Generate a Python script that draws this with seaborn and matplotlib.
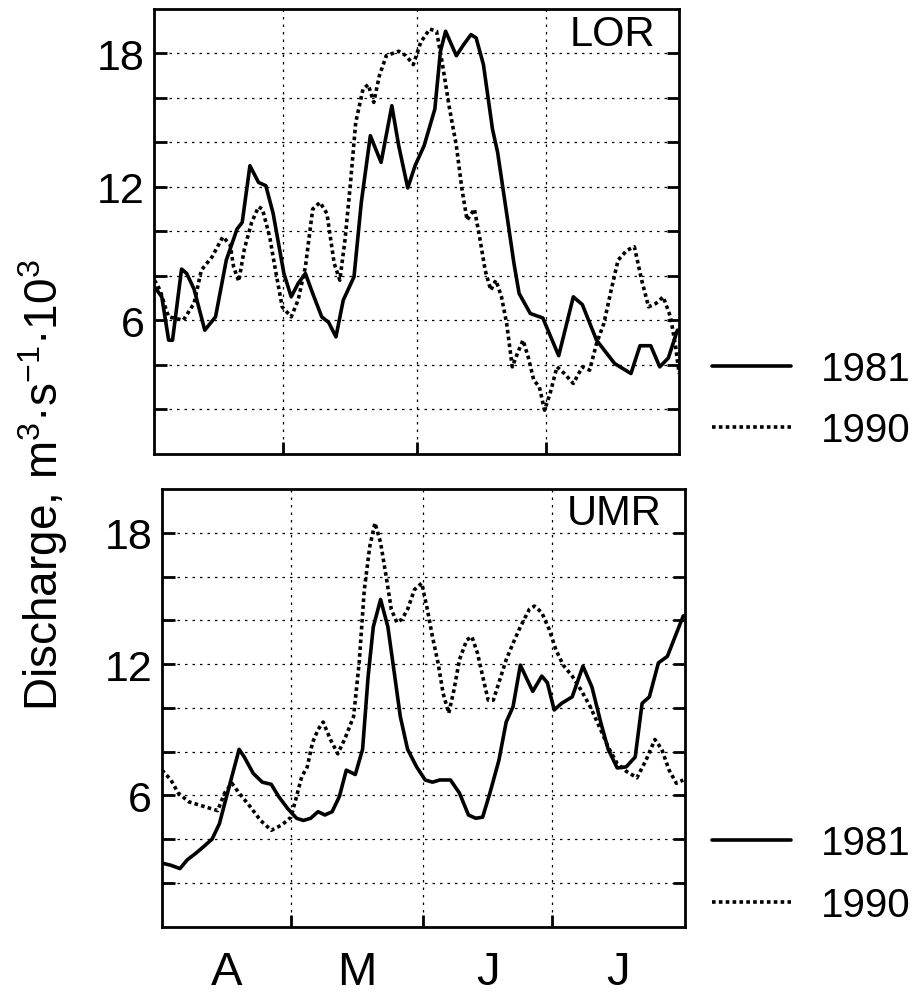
import matplotlib
matplotlib.use("Agg")
import matplotlib.pyplot as plt
import seaborn as sns
import pandas as pd
from matplotlib.lines import Line2D

# ---------------- data (day 0 = 1 April) ----------------
month_labels = ["A", "M", "J", "J"]
month_centers = [15, 45.5, 76, 106.5]
month_bounds = [30, 61, 91]
ytick_values = [2, 4, 6, 8, 10, 12, 14, 16, 18]
ytick_labels = ["", "", "6", "", "", "12", "", "", "18"]
panel_names = ["LOR", "UMR"]
year_labels = ["1981", "1990"]

lor_1981_day = [0, 1.7, 3.3, 4.2, 6.3, 7.5, 9.2, 11.7, 14.2, 16.7, 19.2, 20.4, 22.2, 24.2,
                25.9, 27.6, 30.1, 31.8, 33.4, 35.1, 36.8, 38.9, 40.5, 42.2, 43.9, 46.4,
                48.1, 50.2, 52.7, 55.2, 56.8, 58.9, 60.6, 62.7, 65.2, 66.5, 67.7, 70.2,
                71.9, 73.6, 74.8, 76.5, 78.6, 79.8, 81.9, 83.6, 84.8, 87.4, 90.3, 94,
                97.4, 99.5, 102.8, 107, 110.8, 112.9, 115.4, 117.5, 119.5, 121.6]
lor_1981_q = [7.5, 7.05, 5.1, 5.1, 8.3, 8.1, 7.4, 5.55, 6.15, 8.7, 10.1, 10.4, 12.95, 12.2,
              12.05, 10.8, 8.1, 7.05, 7.65, 8.1, 7.2, 6.15, 5.9, 5.25, 6.9, 7.95,
              11.3, 14.3, 13.1, 15.65, 13.85, 11.95, 12.95, 13.85, 15.5, 18.1, 19.0, 17.9,
              18.4, 18.85, 18.7, 17.5, 14.6, 13.55, 10.8, 8.55, 7.2, 6.3, 6.1, 4.4,
              7.05, 6.7, 5.1, 4.05, 3.6, 4.85, 4.85, 3.9, 4.3, 5.55]

lor_1990_day = [0, 1.3, 2.5, 3.3, 6.7, 9.2, 10.9, 13.4, 15.9, 17.6, 18.4, 19.6, 20.9, 22.6,
                24.2, 25.1, 26.8, 28, 29.7, 31.8, 33.4, 35.1, 36.8, 38.5, 40.1, 41.8,
                43.1, 44.3, 45.6, 46.8, 48.5, 49.7, 51, 52.3, 53.9, 56.8, 58.5, 60.2,
                61.9, 64, 65.6, 66.9, 68.5, 70.2, 71.5, 72.7, 74.4, 75.6, 76.9, 78.2,
                79.4, 80.7, 81.9, 83.2, 84.4, 85.7, 86.9, 88.2, 89.5, 90.7, 92, 93.6,
                95.3, 97.4, 99.5, 101.2, 102.8, 104.5, 106.2, 107.8, 109.9, 111.6, 113.3,
                114.9, 116.6, 118.3, 120, 121.2, 122]
lor_1990_q = [7.8, 7.35, 6.6, 6.15, 6.0, 6.75, 8.25, 8.85, 9.75, 9.4, 8.4, 7.75, 9.2, 10.4,
              11.1, 11.0, 9.75, 8.4, 6.6, 6.15, 6.9, 8.4, 11.0, 11.3, 10.8, 8.55,
              7.8, 9.6, 12.2, 14.9, 16.4, 16.6, 15.8, 17.0, 17.9, 18.1, 17.9, 17.5,
              18.5, 19.1, 19.0, 17.6, 15.65, 13.85, 11.9, 10.5, 11.0, 9.75, 8.25, 7.35,
              7.8, 7.05, 5.85, 3.9, 4.5, 5.1, 4.35, 3.3, 3.0, 1.95, 2.7, 3.9,
              3.6, 3.15, 3.9, 3.75, 4.95, 5.85, 7.35, 8.7, 9.15, 9.3, 7.8,
              6.6, 6.75, 7.05, 6.15, 4.8, 3.6]

umr_1981_day = [0, 2.1, 4.2, 5.9, 7.9, 10, 11.7, 13.4, 14.6, 16.3, 18, 19.2, 21.3, 23.4,
                25.5, 27.2, 29.3, 31.4, 33, 34.7, 36.4, 38, 39.7, 41.4, 43, 45.1, 46.8,
                48.1, 49.3, 51, 52.7, 54.3, 55.6, 57.3, 59.4, 61.4, 63.1, 64.8, 67.3,
                69.4, 71.5, 73.2, 74.8, 76.5, 78.6, 80.3, 81.9, 83.6, 84.8, 86.5, 88.6,
                89.9, 91.5, 93.2, 95.7, 98.2, 100.3, 102.4, 104.1, 106.2, 108.3, 110.4,
                112, 113.7, 115.8, 117.9, 120, 121.6]
umr_1981_q = [2.9, 2.8, 2.65, 3.05, 3.35, 3.7, 4.0, 4.7, 5.6, 6.85, 8.1, 7.75, 7.0, 6.6,
              6.5, 5.95, 5.4, 4.95, 4.85, 4.95, 5.25, 5.1, 5.25, 5.95, 7.15, 6.95, 8.1,
              11.45, 13.7, 14.95, 13.7, 11.45, 9.6, 8.1, 7.3, 6.7, 6.6, 6.7, 6.7,
              6.1, 5.1, 4.95, 5.0, 6.1, 7.6, 9.35, 10.05, 11.95, 11.45, 10.75, 11.45,
              11.15, 9.9, 10.2, 10.5, 11.9, 10.95, 9.3, 8.1, 7.25, 7.3, 7.75,
              10.2, 10.5, 12.05, 12.35, 13.4, 14.2]

umr_1990_day = [0, 2.1, 3.8, 6.3, 9.6, 13, 14.6, 16.3, 18, 20.5, 23, 25.5, 28, 30.1, 31.4,
                32.6, 33.9, 35.1, 36.4, 37.6, 39.3, 41, 42.6, 44.7, 46, 47.2, 48.5, 49.7,
                51, 52.3, 53.5, 54.8, 56, 57.3, 58.9, 60.6, 61.9, 63.1, 64.4, 65.6, 66.9,
                68.1, 69.4, 71.1, 72.3, 73.6, 74.8, 76.1, 77.3, 78.6, 80.3, 81.9, 83.6,
                85.7, 86.9, 88.6, 90.3, 91.9, 93.6, 95.7, 97.8, 99.9, 102, 104.1, 106.2,
                108.3, 110.8, 112.9, 115, 116.6, 118.3, 120, 121.6]
umr_1990_q = [7.15, 6.7, 6.1, 5.7, 5.5, 5.3, 6.1, 6.55, 6.1, 5.5, 4.85, 4.4, 4.65, 5.0, 5.95,
              6.85, 7.3, 8.4, 9.0, 9.35, 8.55, 7.9, 8.55, 9.6, 12.05, 15.4, 17.4, 18.45,
              17.55, 16.0, 14.5, 13.9, 14.05, 14.5, 15.4, 15.7, 14.5, 13.25, 12.05, 10.65, 9.75,
              10.8, 12.2, 13.1, 13.25, 12.5, 11.45, 10.35, 10.35, 11.15, 12.2, 12.95, 13.7,
              14.5, 14.65, 14.35, 13.6, 12.65, 11.95, 11.45, 10.8, 10.05, 9.15, 8.2, 7.45,
              7.1, 6.8, 7.6, 8.55, 8.1, 7.15, 6.55, 6.7]

# ---------------- styling ----------------
sns.set_style("white")
plt.rcParams["font.family"] = ["Liberation Sans", "DejaVu Sans"]
plt.rcParams["mathtext.fontset"] = "custom"
plt.rcParams["mathtext.rm"] = "Liberation Sans"
plt.rcParams["mathtext.it"] = "Liberation Sans:italic"
plt.rcParams["mathtext.bf"] = "Liberation Sans:bold"
for key in ["text.color", "axes.labelcolor", "xtick.color", "ytick.color", "axes.edgecolor"]:
    plt.rcParams[key] = "black"

SOLID_LW = 2.6
DOT_LW = 2.6
DOT_STYLE = (0, (1.0, 0.9))
GRID_STYLE = (0, (2, 4))

fig = plt.figure(figsize=(9.14, 9.95), dpi=100)
ax_top = fig.add_axes([0.169, 0.5432, 0.574, 0.4467])
ax_bot = fig.add_axes([0.1772, 0.0678, 0.5722, 0.4397])

panels = [
    (ax_top, panel_names[0], (lor_1981_day, lor_1981_q), (lor_1990_day, lor_1990_q), 0.5975),
    (ax_bot, panel_names[1], (umr_1981_day, umr_1981_q), (umr_1990_day, umr_1990_q), 0.1205),
]

for ax, name, s81, s90, leg_y in panels:
    df81 = pd.DataFrame({"day": s81[0], "discharge": s81[1]})
    df90 = pd.DataFrame({"day": s90[0], "discharge": s90[1]})
    sns.lineplot(data=df90, x="day", y="discharge", ax=ax, color="black",
                 linewidth=DOT_LW, linestyle=DOT_STYLE, legend=False, zorder=3)
    sns.lineplot(data=df81, x="day", y="discharge", ax=ax, color="black",
                 linewidth=SOLID_LW, legend=False, zorder=4)

    ax.set_xlim(0, 122)
    ax.set_ylim(0, 20)
    ax.set_xticks(month_bounds)
    ax.set_xticks(month_centers, minor=True)
    ax.set_yticks(ytick_values)
    ax.set_yticklabels(ytick_labels)
    ax.set_xlabel("")
    ax.set_ylabel("")
    ax.grid(True, which="major", color="black", linestyle=GRID_STYLE, linewidth=0.9)
    for sp in ax.spines.values():
        sp.set_visible(True)
        sp.set_linewidth(2.0)
        sp.set_color("black")
    ax.tick_params(axis="y", which="major", direction="in", left=True, right=True,
                   length=9, width=2, labelsize=31, pad=7, colors="black")
    ax.tick_params(axis="x", which="major", direction="in", bottom=True, top=False,
                   length=9, width=2, labelbottom=False)
    ax.tick_params(axis="x", which="minor", length=0, bottom=False, top=False)

    ax.text(0.955, 0.92, name, transform=ax.transAxes, ha="right", va="baseline",
            fontsize=30, color="black")

    handles = [Line2D([], [], color="black", linewidth=SOLID_LW),
               Line2D([], [], color="black", linewidth=DOT_LW, linestyle=DOT_STYLE)]
    leg = ax.legend(handles, year_labels, loc="center left", bbox_to_anchor=(712 / 914, leg_y),
                    bbox_transform=fig.transFigure, frameon=False, borderpad=0,
                    borderaxespad=0, handlelength=1.95, handletextpad=0.75,
                    labelspacing=0.58, fontsize=29)
    for t in leg.get_texts():
        t.set_color("black")

ax_top.tick_params(axis="x", which="minor", labelbottom=False)
ax_bot.set_xticklabels(month_labels, minor=True)
ax_bot.tick_params(axis="x", which="minor", labelbottom=True, labelsize=34, pad=17,
                   labelcolor="black")

fig.text(43 / 914, 0.512, r"Discharge, m$\mathregular{^{3}}$·s$\mathregular{^{-1}}$·10$\mathregular{^{3}}$",
         rotation=90, ha="center", va="center", fontsize=33, color="black")

fig.savefig("out.png", dpi=100, facecolor="white")
